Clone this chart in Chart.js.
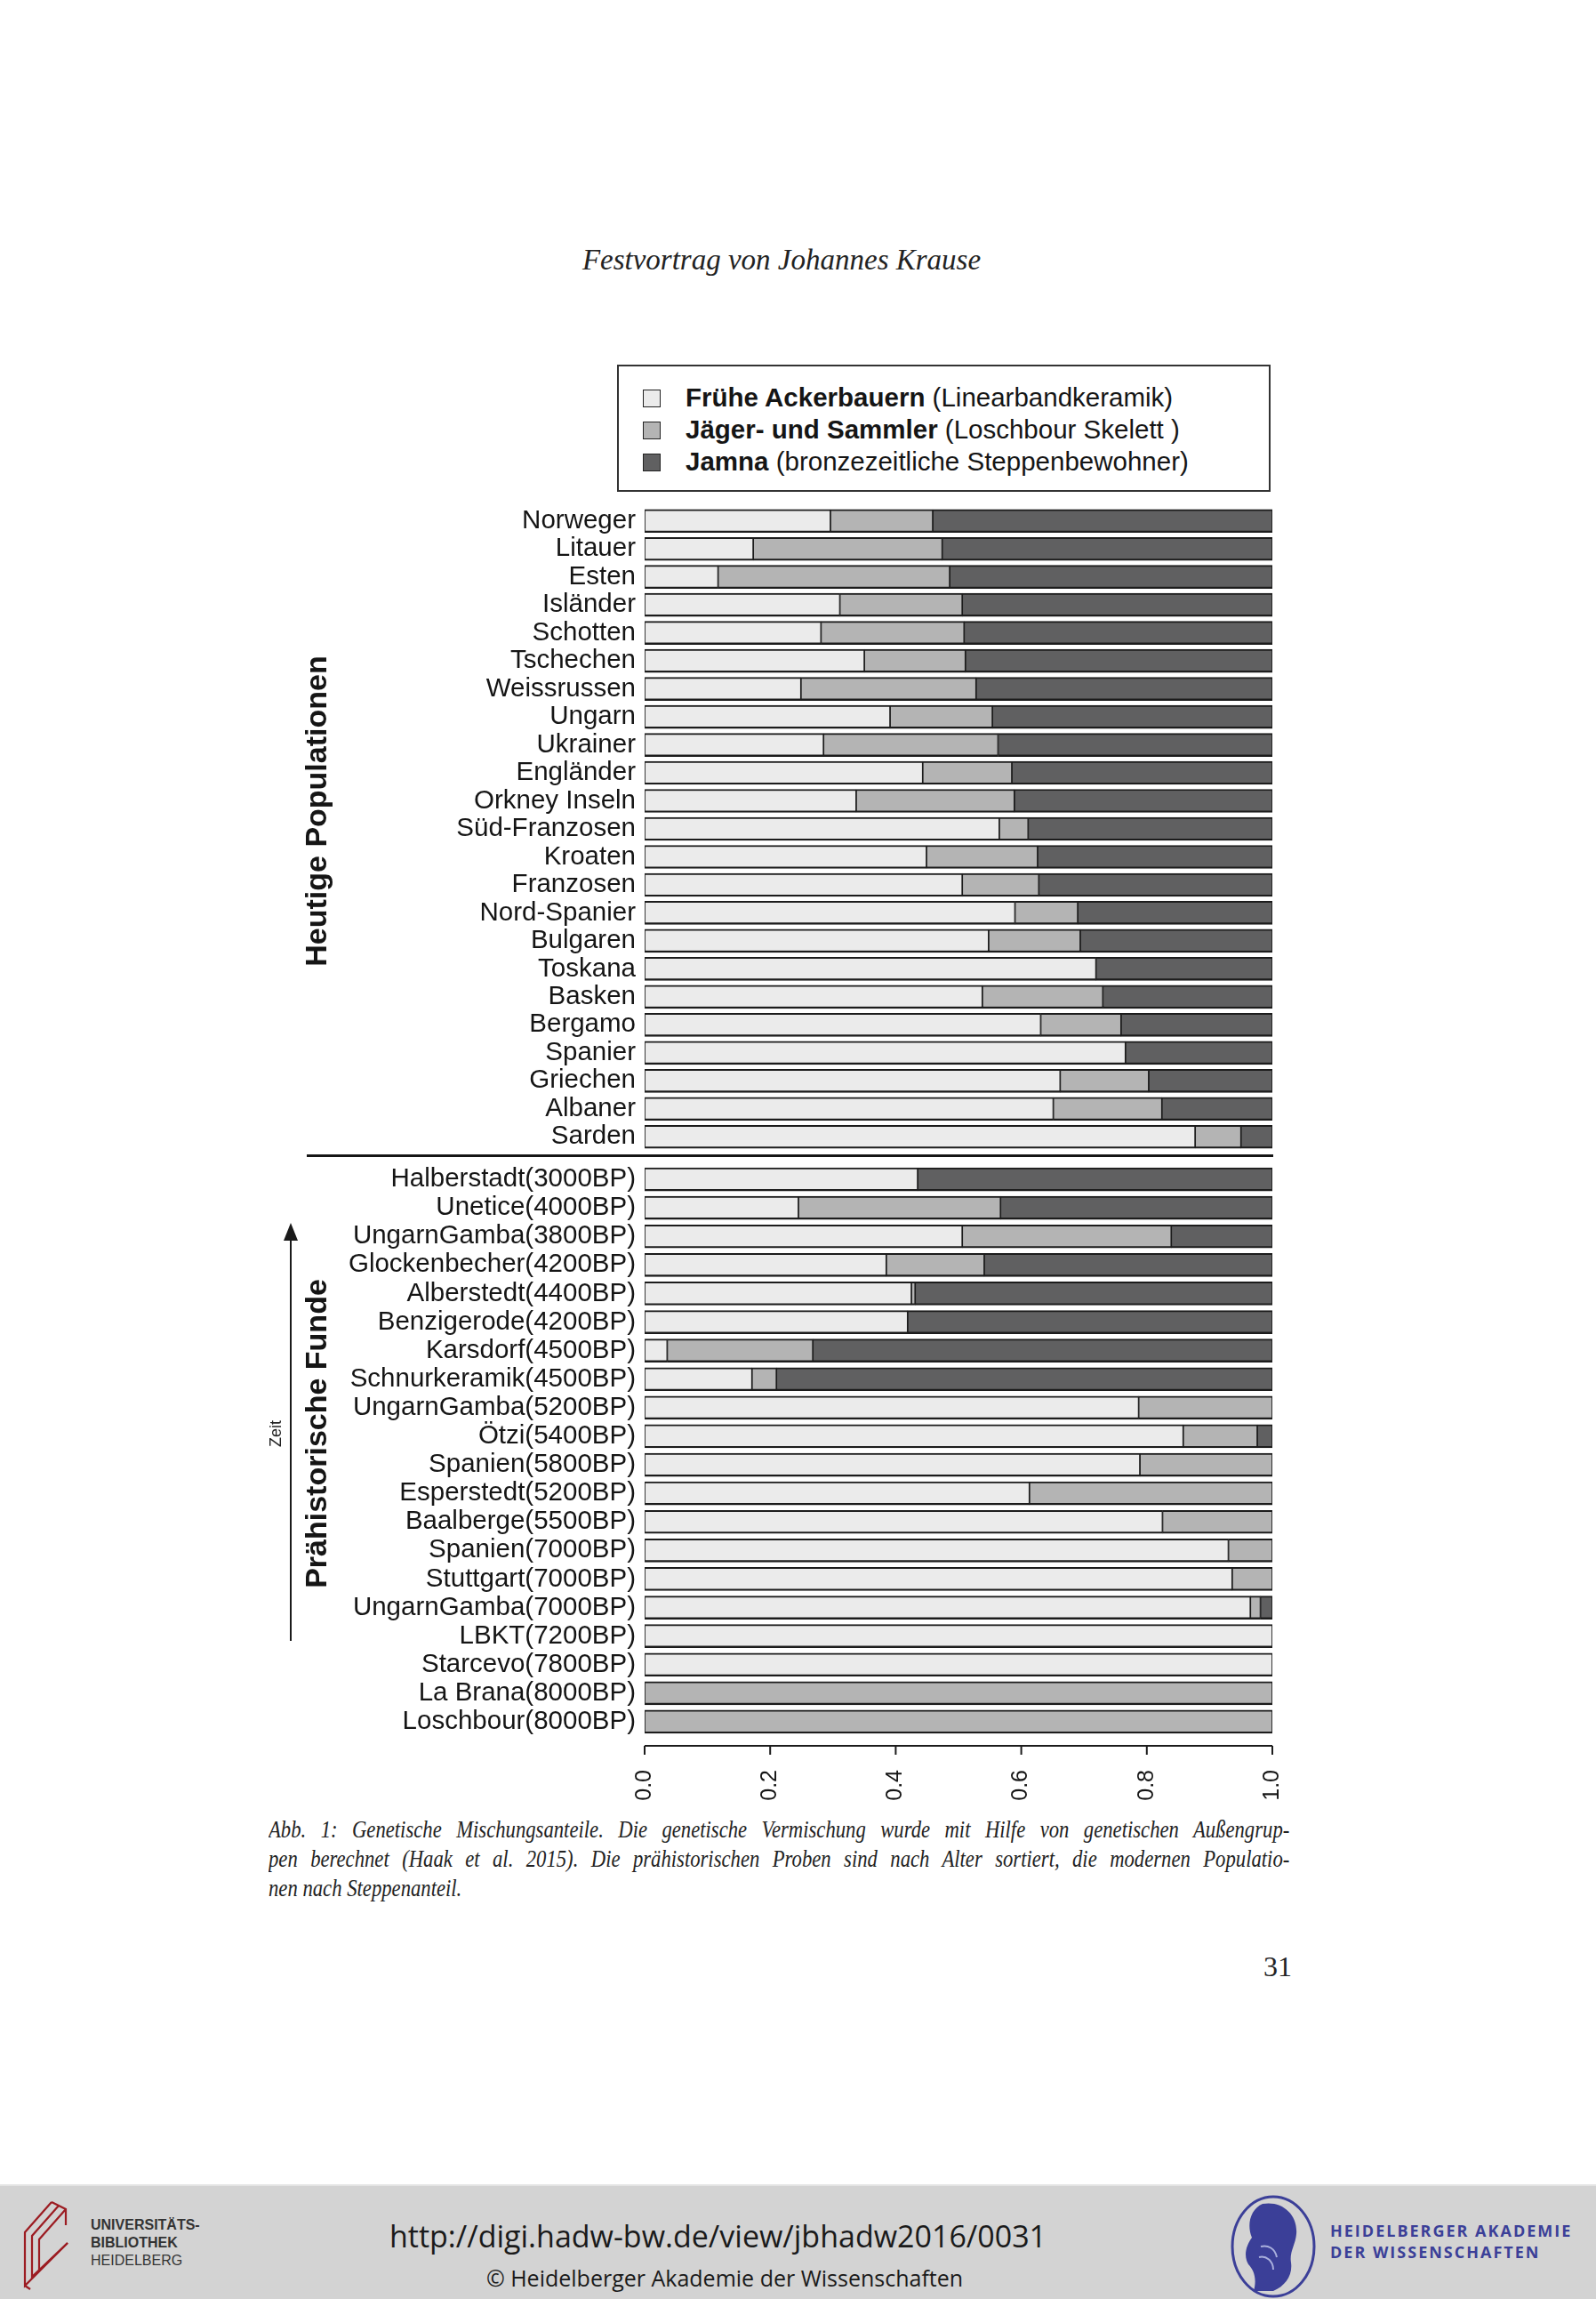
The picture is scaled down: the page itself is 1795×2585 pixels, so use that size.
<!DOCTYPE html>
<html lang="de">
<head>
<meta charset="utf-8">
<title>Genetische Mischungsanteile</title>
<script src="https://cdn.jsdelivr.net/npm/chart.js@4.4.1/dist/chart.umd.min.js"></script>
<style>
  body { margin: 0; background: #fff; }
  #page { position: relative; width: 1795px; height: 2585px; background: #fff; overflow: hidden; }
  .abs { position: absolute; }
  #header { left: 0; width: 1758px; top: 274px; line-height: 42px; text-align: center;
            font: italic 33px "Liberation Serif", "DejaVu Serif", serif; color: #222; }
  #legend { left: 694px; top: 410px; width: 735px; height: 143px; box-sizing: border-box;
            border: 2px solid #333; }
  .legend-box { position: absolute; left: 27px; width: 20px; height: 20px; box-sizing: border-box;
                border: 1.5px solid #222; }
  .legend-text { position: absolute; left: 75px; height: 36px; line-height: 36px; white-space: nowrap;
                 font: 29.5px "Liberation Sans", Arial, sans-serif; color: #151515; }
  .legend-text b { font-weight: bold; }
  canvas { position: absolute; }
  #divider { left: 345px; top: 1298px; width: 1087px; height: 3px; background: #151515; }
  .side { text-align: center; white-space: nowrap; transform: rotate(-90deg);
          font: bold 34px "Liberation Sans", Arial, sans-serif; color: #151515; }
  #arrowLine { left: 326px; top: 1392px; width: 2px; height: 453px; background: #1a1a1a; }
  #arrowHead { left: 319px; top: 1375px; width: 0; height: 0;
               border-left: 8px solid transparent; border-right: 8px solid transparent;
               border-bottom: 20px solid #1a1a1a; }
  #caption { left: 302px; top: 2041px; width: 1367px; transform: scaleX(0.84); transform-origin: 0 0;
             font: italic 27px "Liberation Serif", "DejaVu Serif", serif; color: #222; }
  #caption div { height: 33px; line-height: 33px; white-space: nowrap; }
  #caption .just { text-align: justify; text-align-last: justify; white-space: normal; overflow: hidden; }
  #pageNo { left: 1353px; width: 100px; top: 2193px; line-height: 40px; text-align: right;
            font: 32px "Liberation Serif", serif; color: #222; }
  #footer { left: 0; top: 2456px; width: 1795px; height: 129px; background: #d3d3d3;
            border-top: 2px solid #e4e4e4; }
  #url { left: 400px; width: 815px; top: 33px; text-align: center; line-height: 44px;
         font: 34px "Open Sans", "DejaVu Sans", sans-serif; color: #1a1a1a; }
  #copy { left: 480px; width: 670px; top: 86px; text-align: center; line-height: 32px;
          font: 25px "Open Sans", "DejaVu Sans", sans-serif; color: #1a1a1a; }
  .ub { left: 102px; font: bold 16px "Liberation Sans", Arial, sans-serif; color: #333; line-height: 20px; }
  .hadw { left: 1496px; font: bold 18px "Open Sans", "Liberation Sans", sans-serif; color: #3b3f98;
          letter-spacing: 2px; line-height: 24px; }
</style>
</head>
<body>
<div id="page">
  <div id="header" class="abs">Festvortrag von Johannes Krause</div>

  <div id="legend" class="abs"></div>

  <canvas id="modernChart" width="1120" height="724" style="left:330px; top:570px;"></canvas>
  <div id="divider" class="abs"></div>
  <canvas id="ancientChart" width="1120" height="720" style="left:330px; top:1310px;"></canvas>

  <div class="abs side" style="left:180px; top:892px; width:350px; height:40px; line-height:40px;">Heutige Populationen</div>
  <div class="abs side" style="left:180px; top:1592px; width:350px; height:40px; line-height:40px;">Prähistorische Funde</div>
  <div id="arrowLine" class="abs"></div>
  <div id="arrowHead" class="abs"></div>
  <div class="abs" style="left:272px; top:1600px; width:80px; height:24px; line-height:24px; text-align:center; transform:rotate(-90deg); font:18px 'Liberation Sans', Arial, sans-serif; color:#222;">Zeit</div>

  <div id="caption" class="abs">
    <div class="just">Abb. 1: Genetische Mischungsanteile. Die genetische Vermischung wurde mit Hilfe von genetischen Außengrup-</div>
    <div class="just">pen berechnet (Haak et al. 2015). Die prähistorischen Proben sind nach Alter sortiert, die modernen Populatio-</div>
    <div>nen nach Steppenanteil.</div>
  </div>
  <div id="pageNo" class="abs">31</div>

  <div id="footer" class="abs">
    <svg class="abs" style="left:18px; top:14px;" width="72" height="106" viewBox="0 0 72 106">
      <g fill="none" stroke="#9c1c22" stroke-width="2.2">
        <polyline points="40,4 10,38 10,98 58,50"/>
        <polyline points="48,8 18,42 18,88 58,50"/>
        <polyline points="56,12 26,46 26,80"/>
        <polyline points="40,4 56,12 56,30"/>
        <polyline points="10,98 16,102"/>
      </g>
    </svg>
    <div class="abs ub" style="top:34px;">UNIVERSITÄTS-</div>
    <div class="abs ub" style="top:54px;">BIBLIOTHEK</div>
    <div class="abs ub" style="top:74px; font-weight:normal;">HEIDELBERG</div>

    <div id="url" class="abs">http://digi.hadw-bw.de/view/jbhadw2016/0031</div>
    <div id="copy" class="abs">© Heidelberger Akademie der Wissenschaften</div>

    <svg class="abs" style="left:1380px; top:8px;" width="104" height="120" viewBox="0 0 104 120">
      <ellipse cx="52" cy="60" rx="46" ry="56" fill="none" stroke="#3b3f98" stroke-width="3"/>
      <path d="M40,12 C62,8 80,24 78,46 C77,58 70,66 72,78 C74,92 66,104 52,110 L30,110 C34,96 30,86 24,80 C18,70 22,58 28,50 C22,36 26,18 40,12 Z" fill="#3b3f98"/>
      <path d="M38,60 C46,58 54,62 56,72 M36,72 C44,70 52,76 52,86" stroke="#aab0dd" stroke-width="2" fill="none"/>
    </svg>
    <div class="abs hadw" style="top:38px;">HEIDELBERGER AKADEMIE</div>
    <div class="abs hadw" style="top:62px;">DER WISSENSCHAFTEN</div>
  </div>
</div>

<script>
// Legend / series
const seriesNames = ['Frühe Ackerbauern', 'Jäger- und Sammler', 'Jamna'];
const seriesNotes = ['(Linearbandkeramik)', '(Loschbour Skelett )', '(bronzezeitliche Steppenbewohner)'];
const seriesColors = ['#ebebeb', '#b4b4b4', '#606061'];

// Heutige Populationen (sorted by steppe share)
const modernLabels = ['Norweger', 'Litauer', 'Esten', 'Isländer', 'Schotten', 'Tschechen', 'Weissrussen',
    'Ungarn', 'Ukrainer', 'Engländer', 'Orkney Inseln', 'Süd-Franzosen', 'Kroaten', 'Franzosen',
    'Nord-Spanier', 'Bulgaren', 'Toskana', 'Basken', 'Bergamo', 'Spanier', 'Griechen', 'Albaner', 'Sarden'];
const modernFarmers = [0.296, 0.173, 0.117, 0.311, 0.281, 0.350, 0.249, 0.391, 0.285, 0.443, 0.337, 0.565,
    0.449, 0.506, 0.590, 0.548, 0.719, 0.538, 0.631, 0.766, 0.662, 0.651, 0.877];
const modernHunters = [0.163, 0.301, 0.369, 0.195, 0.228, 0.161, 0.279, 0.163, 0.278, 0.142, 0.252, 0.046,
    0.177, 0.122, 0.100, 0.146, 0.000, 0.192, 0.128, 0.000, 0.141, 0.173, 0.073];
const modernSteppe = [0.541, 0.526, 0.514, 0.494, 0.491, 0.489, 0.472, 0.446, 0.437, 0.415, 0.411, 0.389,
    0.374, 0.372, 0.310, 0.306, 0.281, 0.270, 0.241, 0.234, 0.197, 0.176, 0.050];

// Prähistorische Funde (sorted by age)
const ancientLabels = ['Halberstadt(3000BP)', 'Unetice(4000BP)', 'UngarnGamba(3800BP)', 'Glockenbecher(4200BP)',
    'Alberstedt(4400BP)', 'Benzigerode(4200BP)', 'Karsdorf(4500BP)', 'Schnurkeramik(4500BP)',
    'UngarnGamba(5200BP)', 'Ötzi(5400BP)', 'Spanien(5800BP)', 'Esperstedt(5200BP)', 'Baalberge(5500BP)',
    'Spanien(7000BP)', 'Stuttgart(7000BP)', 'UngarnGamba(7000BP)', 'LBKT(7200BP)', 'Starcevo(7800BP)',
    'La Brana(8000BP)', 'Loschbour(8000BP)'];
const ancientFarmers = [0.435, 0.245, 0.506, 0.385, 0.425, 0.419, 0.036, 0.171, 0.787, 0.858, 0.789, 0.613,
    0.825, 0.930, 0.936, 0.965, 1.000, 1.000, 0.000, 0.000];
const ancientHunters = [0.000, 0.322, 0.333, 0.156, 0.006, 0.000, 0.232, 0.039, 0.213, 0.118, 0.211, 0.387,
    0.175, 0.070, 0.064, 0.016, 0.000, 0.000, 1.000, 1.000];
const ancientSteppe = [0.565, 0.433, 0.161, 0.459, 0.569, 0.581, 0.732, 0.790, 0.000, 0.024, 0.000, 0.000,
    0.000, 0.000, 0.000, 0.019, 0.000, 0.000, 0.000, 0.000];

// x axis ticks
const xTicks = [0, 0.2, 0.4, 0.6, 0.8, 1.0];

const labelFont = '"Liberation Sans", Arial, sans-serif';

// Build the HTML legend
function buildLegend() {
    const legend = document.getElementById('legend');
    seriesNames.forEach((name, i) => {
        const top = 18 + i * 36;
        const box = document.createElement('div');
        box.className = 'legend-box';
        box.style.top = (top + 8) + 'px';
        box.style.background = seriesColors[i];
        legend.appendChild(box);

        const text = document.createElement('div');
        text.className = 'legend-text';
        text.style.top = top + 'px';
        text.innerHTML = `<b>${name}</b> ${seriesNotes[i]}`;
        legend.appendChild(text);
    });
}

function makeDataset(i, data) {
    return {
        label: seriesNames[i],
        data: data,
        backgroundColor: seriesColors[i],
        borderColor: '#1c1c1c',
        borderWidth: { top: 2, bottom: 2.4, left: 1.2, right: 1.2 },
        borderSkipped: false,
        barThickness: 26
    };
}

// R-style bottom axis, a bit below the last bar
const bottomAxis = {
    id: 'bottomAxis',
    afterDraw(chart) {
        const { ctx, chartArea } = chart;
        const x = chart.scales.x;
        const y0 = chartArea.bottom + 11;
        ctx.save();
        ctx.strokeStyle = '#1c1c1c';
        ctx.lineWidth = 2;
        ctx.beginPath();
        ctx.moveTo(x.getPixelForValue(xTicks[0]), y0);
        ctx.lineTo(x.getPixelForValue(xTicks[xTicks.length - 1]), y0);
        xTicks.forEach(v => {
            const px = x.getPixelForValue(v);
            ctx.moveTo(px, y0);
            ctx.lineTo(px, y0 + 10);
        });
        ctx.stroke();

        ctx.fillStyle = '#151515';
        ctx.font = '25px ' + labelFont;
        ctx.textAlign = 'right';
        ctx.textBaseline = 'middle';
        xTicks.forEach(v => {
            ctx.save();
            ctx.translate(x.getPixelForValue(v), y0 + 27);
            ctx.rotate(-Math.PI / 2);
            ctx.fillText(v.toFixed(1), 0, 0);
            ctx.restore();
        });
        ctx.restore();
    }
};

function createStackChart(canvasId, labels, farmers, hunters, steppe, bottomPad, extraPlugins) {
    const ctx = document.getElementById(canvasId).getContext('2d');
    return new Chart(ctx, {
        type: 'bar',
        data: {
            labels: labels,
            datasets: [
                makeDataset(0, farmers),
                makeDataset(1, hunters),
                makeDataset(2, steppe)
            ]
        },
        options: {
            indexAxis: 'y',
            responsive: false,
            animation: false,
            devicePixelRatio: 1,
            layout: { autoPadding: false, padding: { top: 0, right: 19, bottom: bottomPad, left: 0 } },
            plugins: {
                legend: { display: false },
                tooltip: { enabled: false }
            },
            scales: {
                x: { stacked: true, min: 0, max: 1, display: false },
                y: {
                    stacked: true,
                    grid: { display: false, drawTicks: false },
                    border: { display: false },
                    ticks: {
                        autoSkip: false,
                        padding: 10,
                        color: '#151515',
                        font: { family: labelFont, size: 29.5 }
                    },
                    afterFit: scale => {
                        scale.width = 395;
                        scale.paddingTop = 0;
                        scale.paddingBottom = 0;
                    }
                }
            }
        },
        plugins: extraPlugins
    });
}

buildLegend();
createStackChart('modernChart', modernLabels, modernFarmers, modernHunters, modernSteppe, 0, []);
createStackChart('ancientChart', ancientLabels, ancientFarmers, ancientHunters, ancientSteppe, 78, [bottomAxis]);
</script>
</body>
</html>
